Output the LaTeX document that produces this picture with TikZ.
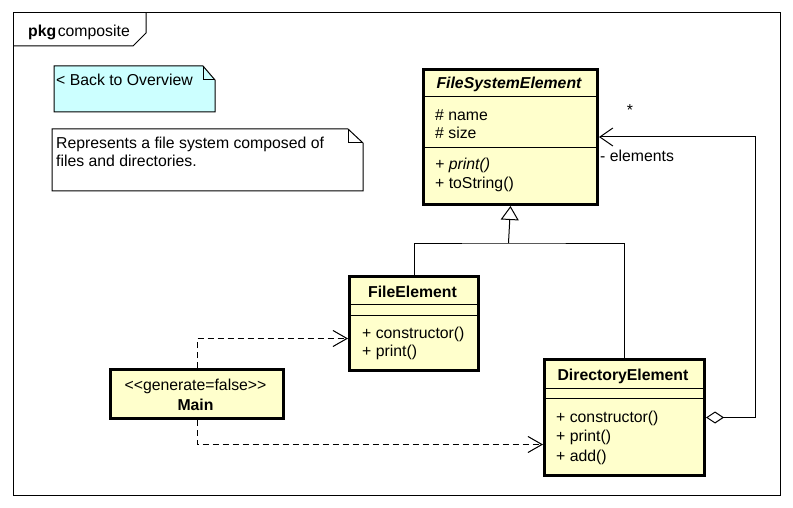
\documentclass[tikz,border=0pt]{standalone}
\usepackage{fontspec}
\setmainfont{Liberation Sans}
\usepackage{tikz}
\usetikzlibrary{arrows.meta}
\definecolor{classYellow}{RGB}{255,255,204}
\definecolor{noteCyan}{RGB}{204,255,255}

\begin{document}
\begin{tikzpicture}[x=1pt, y=-1pt, font=\fontsize{15.8}{18}\selectfont,
    every node/.style={inner sep=0pt},
    classbox/.style={rectangle, draw, line width=3pt, fill=classYellow, anchor=north west},
    txt/.style={anchor=base west},
    ttl/.style={anchor=base, font=\fontsize{15.8}{18}\selectfont\bfseries},
    dep/.style={line width=1pt, dash pattern=on 6pt off 4pt, -{Straight Barb[length=14pt, width=16pt]}},
    inherit/.style={line width=1pt, -{Triangle[open, length=14pt, width=18pt]}},
    aggr/.style={line width=1pt, {Diamond[open, length=18pt, width=12pt]}-{Straight Barb[length=13pt, width=18pt]}}]
            \useasboundingbox (0,0) rectangle (793,508);
            % package frame and its tab
            \draw[line width=1pt] (13,13) rectangle (780,495);
            \draw[line width=1pt] (13,46) -- (133,46) -- (146,33) -- (146,13);
            \node[txt] (pkg) at (28,37) {\textbf{pkg}\hspace{1.5pt}composite};
            % notes
            \draw[line width=1pt, fill=noteCyan] (54,66) -- (203,66) -- (215,80) -- (215,112) -- (54,112) -- cycle;
            \draw[line width=1pt] (203,66) -- (203,80) -- (215,80);
            \node[txt] (back) at (56,86) {< Back to Overview};
            \draw[line width=1pt, fill=white] (52,129) -- (348,129) -- (363,143) -- (363,191) -- (52,191) -- cycle;
            \draw[line width=1pt] (348,129) -- (348,143) -- (363,143);
            \node[txt] (descA) at (56,149) {Represents a file system composed of};
            \node[txt] (descB) at (56,167) {files and directories.};
            % classes
            \node[classbox, minimum width=174pt, minimum height=135pt] (fse) at (422,68) {};
            \node[classbox, minimum width=129pt, minimum height=94pt] (fe) at (348,275) {};
            \node[classbox, minimum width=173pt, minimum height=49pt] (main) at (109,368) {};
            \node[classbox, minimum width=160pt, minimum height=116pt] (de) at (543,358) {};
            \draw[line width=1pt] (422,97) -- (596,97) (422,148) -- (596,148);
            \draw[line width=1pt] (348,304) -- (477,304) (348,315) -- (477,315);
            \draw[line width=1pt] (543,388) -- (703,388) (543,398) -- (703,398);
            \node[ttl, font=\fontsize{15.8}{18}\selectfont\bfseries\itshape] (fseT) at (509,89) {FileSystemElement};
            \node[txt] (fseA) at (435,121) {\# name};
            \node[txt] (fseB) at (435,139) {\# size};
            \node[txt] (fseC) at (435,170) {\textit{+ print()}};
            \node[txt] (fseD) at (435,189) {+ toString()};
            \node[ttl] (feT) at (412.5,297) {FileElement};
            \node[txt] (feA) at (362,338) {+ constructor()};
            \node[txt] (feB) at (362,356) {+ print()};
            \node[anchor=base] (mainS) at (195.5,390) {{<}{<}generate=false{>}{>}};
            \node[ttl] (mainT) at (195.5,410) {Main};
            \node[ttl] (deT) at (623,380) {DirectoryElement};
            \foreach \m [count=\i from 0] in {+ constructor(), + print(), + add()}
                \node[txt] (deM\i) at (556,422+19.5*\i) {\m};
            % connectors
            \coordinate (join) at (508.5,243);
            \draw[line width=1pt] (fe.north) |- (join) -| (de.north);
            \draw[inherit] (join) -- (fse.south);
            \draw[dep] (main.north) |- ([yshift=-15pt]fe.west);
            \draw[dep] (main.south) |- ([yshift=-27pt]de.west);
            \draw[aggr] (de.east) -- ++(49,0) coordinate (bend) |- (fse.east);
            \node (star) at (630,110) {*};
            \node[txt] (role) at (600,162) {- elements};
        \end{tikzpicture}
\end{document}
